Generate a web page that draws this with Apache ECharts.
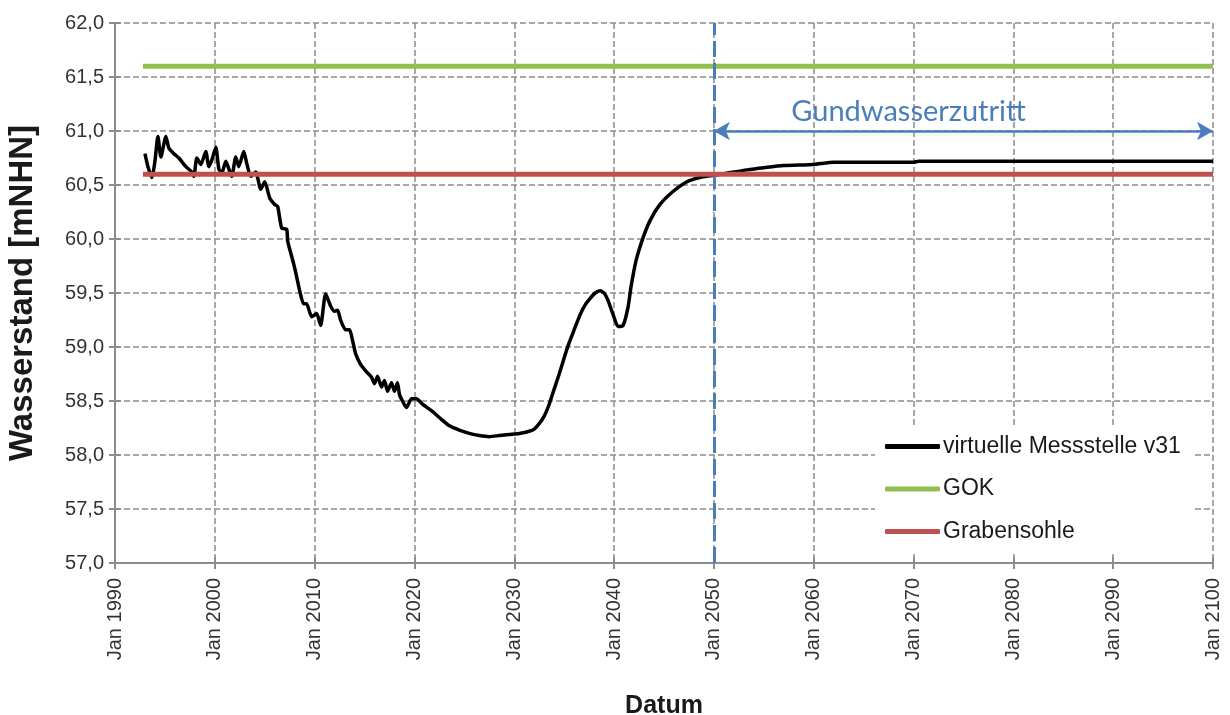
<!DOCTYPE html>
<html>
<head>
<meta charset="utf-8">
<script src="https://cdn.jsdelivr.net/npm/echarts@6/dist/echarts.min.js"></script>
<style>html,body{margin:0;padding:0;background:#fff}#c{width:1230px;height:715px}</style>
</head>
<body>
<div id="c"></div>
<script>
// ---- data ----
const seriesNames = ['virtuelle Messstelle v31', 'GOK', 'Grabensohle'];
const xRange = [1990, 2100];
const yRange = [57, 62];
const messstelle = [
[1993.0,60.79],[1993.3,60.67],[1993.7,60.57],[1994.0,60.72],[1994.3,60.95],[1994.6,60.76],
[1995.1,60.95],[1995.4,60.84],[1995.9,60.79],[1996.4,60.75],[1997.1,60.67],[1997.7,60.62],
[1997.9,60.58],[1998.2,60.75],[1998.6,60.69],[1999.1,60.81],[1999.4,60.67],[1999.7,60.73],
[2000.1,60.85],[2000.4,60.65],[2000.7,60.61],[2001.1,60.72],[2001.4,60.65],[2001.7,60.58],
[2002.1,60.76],[2002.4,60.67],[2002.9,60.81],[2003.2,60.70],[2003.6,60.58],[2004.1,60.62],
[2004.6,60.46],[2005.0,60.53],[2005.5,60.38],[2006.0,60.32],[2006.3,60.30],[2006.7,60.10],
[2007.2,60.09],[2007.3,59.98],[2007.9,59.77],[2008.2,59.65],[2008.5,59.52],[2008.9,59.40],
[2009.2,59.40],[2009.7,59.28],[2010.2,59.31],[2010.6,59.20],[2011.1,59.49],[2011.6,59.38],
[2012.0,59.33],[2012.3,59.34],[2012.6,59.25],[2013.1,59.16],[2013.5,59.16],[2013.8,59.06],
[2014.1,58.94],[2014.6,58.84],[2015.2,58.77],[2015.7,58.72],[2016.0,58.66],[2016.3,58.73],
[2016.7,58.63],[2017.0,58.69],[2017.3,58.59],[2017.7,58.67],[2018.0,58.59],[2018.3,58.67],
[2018.5,58.56],[2018.8,58.50],[2019.2,58.44],[2019.7,58.52],[2020.2,58.52],[2020.8,58.47],
[2021.7,58.41],[2022.7,58.33],[2023.5,58.27],[2024.5,58.23],[2025.5,58.20],[2026.5,58.18],
[2027.5,58.17],[2028.5,58.18],[2029.5,58.19],[2030.5,58.20],[2031.5,58.22],[2032.0,58.24],
[2032.5,58.29],[2033.0,58.36],[2033.5,58.47],[2034.0,58.61],[2034.5,58.75],[2035.0,58.90],
[2035.5,59.04],[2036.0,59.16],[2036.6,59.30],[2037.1,59.39],[2037.6,59.45],[2038.1,59.50],
[2038.6,59.52],[2039.0,59.50],[2039.4,59.43],[2039.9,59.30],[2040.4,59.19],[2040.9,59.20],
[2041.4,59.37],[2041.7,59.56],[2042.2,59.80],[2042.9,60.01],[2043.6,60.17],[2044.6,60.32],
[2045.9,60.44],[2047.3,60.53],[2048.6,60.57],[2050.0,60.59],[2051.3,60.61],[2053.3,60.64],
[2055.0,60.66],[2057.0,60.68],[2060.0,60.69],[2062.0,60.71],[2070.0,60.71],[2070.5,60.72],
[2080.0,60.72],[2090.0,60.72],[2100.0,60.72]
];
const gok = [[1992.8,61.6],[2100,61.6]];
const grabensohle = [[1992.8,60.6],[2100,60.6]];
const markerYear = 2050;
const arrowRange = [2050, 2100];
const arrowLevel = 61.0;
const arrowText = 'Gundwasserzutritt';
const arrowTextPos = [2069.5, 61.18];

// ---- chart ----
const FONT = 'Liberation Sans, Arial, sans-serif';
const gridLine = {show:true, lineStyle:{color:'#8c8c8c', width:1.5, type:[6,3]}};
const colors = ['#000000', '#92c050', '#c0504d'];
const chart = echarts.init(document.getElementById('c'), null, {renderer:'canvas'});
chart.setOption({
  animation:false,
  backgroundColor:'#fff',
  grid:{left:115, right:17, top:23, bottom:152, containLabel:false, outerBoundsMode:'none'},
  xAxis:[{
    type:'value', min:xRange[0], max:xRange[1], interval:10,
    name:'Datum', nameLocation:'middle', nameGap:131,
    nameTextStyle:{fontFamily:FONT, fontWeight:'bold', fontSize:25, color:'#1a1a1a'},
    axisLine:{show:true, onZero:false, lineStyle:{color:'#8c8c8c', width:2}},
    axisTick:{show:true, length:6, lineStyle:{color:'#8c8c8c', width:2}},
    axisLabel:{rotate:90, margin:15, fontFamily:FONT, fontSize:20, color:'#333',
      formatter:v=>'Jan '+v},
    splitLine:gridLine
  },{
    type:'value', min:xRange[0], max:xRange[1], interval:10, position:'bottom',
    axisLine:{show:false}, axisLabel:{show:false}, splitLine:{show:false},
    axisTick:{show:true, inside:true, length:6, lineStyle:{color:'#8c8c8c', width:2}}
  }],
  yAxis:[{
    type:'value', min:yRange[0], max:yRange[1], interval:0.5,
    name:'Wasserstand [mNHN]', nameLocation:'middle', nameGap:76, nameRotate:90,
    nameTextStyle:{fontFamily:FONT, fontWeight:'bold', fontSize:33, color:'#1a1a1a'},
    axisLine:{show:true, onZero:false, lineStyle:{color:'#8c8c8c', width:2}},
    axisTick:{show:true, length:6, lineStyle:{color:'#8c8c8c', width:2}},
    axisLabel:{margin:11, fontFamily:FONT, fontSize:20, color:'#333',
      formatter:v=>v.toFixed(1).replace('.',',')},
    splitLine:gridLine
  },{
    type:'value', min:yRange[0], max:yRange[1], interval:0.5, position:'left',
    axisLine:{show:false}, axisLabel:{show:false}, splitLine:{show:false},
    axisTick:{show:true, inside:true, length:6, lineStyle:{color:'#8c8c8c', width:2}}
  }],
  legend:{
    orient:'vertical', left:875, top:425, padding:[10,14,10,10],
    backgroundColor:'#fff', itemWidth:55, itemHeight:5, itemGap:19.5,
    textStyle:{fontFamily:FONT, fontSize:23, color:'#1a1a1a', padding:[0,0,0,-2]},
    data:seriesNames.map((n,i)=>({name:n, icon:'roundRect', itemStyle:{color:colors[i]}}))
  },
  series:[{
    name:seriesNames[0], type:'line', data:messstelle, showSymbol:false, symbol:'none',
    smooth:0.2, lineStyle:{color:colors[0], width:3.5}, itemStyle:{color:colors[0]},
    z:3,
    markLine:{
      silent:true, symbol:['none','none'], label:{show:false},
      data:[
        [{coord:[markerYear,yRange[0]], symbol:'none'},{coord:[markerYear,yRange[1]], symbol:'none',
          lineStyle:{color:'#4a7ebb', width:3, type:[16,6]}}],
        [{coord:[arrowRange[0],arrowLevel], symbol:'arrow', symbolSize:[14,16]},
         {coord:[arrowRange[1],arrowLevel], symbol:'arrow', symbolSize:[14,16],
          lineStyle:{color:'#4a7ebb', width:2.5, type:'solid'}}]
      ]
    },
    markPoint:{
      silent:true,
      data:[{coord:arrowTextPos, symbol:'circle', symbolSize:1, itemStyle:{color:'rgba(0,0,0,0)'},
        label:{show:true, position:'inside', formatter:arrowText, color:'#4a7ebb',
          fontFamily:'Lato, Open Sans, sans-serif', fontSize:29}}]
    }
  },{
    name:seriesNames[1], type:'line', data:gok, showSymbol:false, symbol:'none',
    lineStyle:{color:colors[1], width:5}, itemStyle:{color:colors[1]}, z:4
  },{
    name:seriesNames[2], type:'line', data:grabensohle, showSymbol:false, symbol:'none',
    lineStyle:{color:colors[2], width:5}, itemStyle:{color:colors[2]}, z:5
  }]
});
</script>
</body>
</html>
